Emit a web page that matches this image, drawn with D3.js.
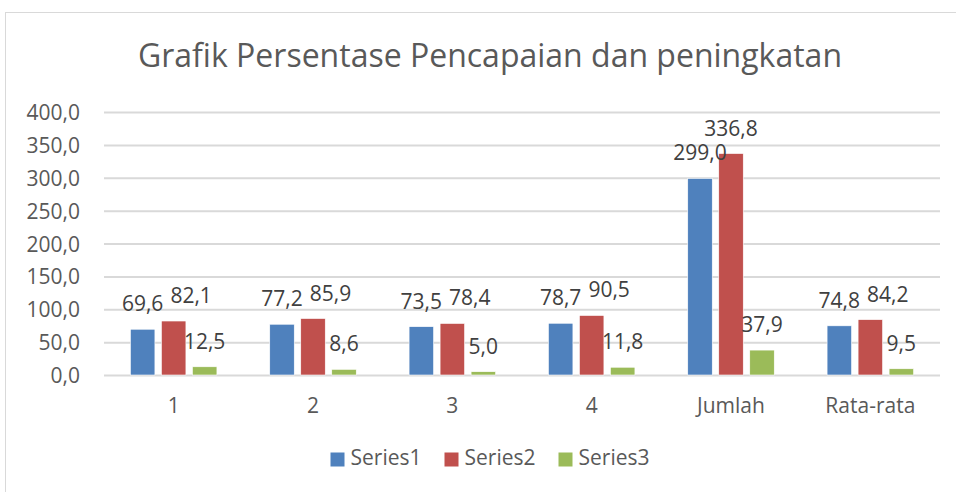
<!DOCTYPE html>
<html>
<head>
<meta charset="utf-8">
<script src="https://cdn.jsdelivr.net/npm/d3@7"></script>
<style>
  body { margin: 0; background: #fff; }
  svg { display: block; font-family: "Open Sans", sans-serif; }
</style>
</head>
<body>
<div id="chart"></div>
<script>
// Data
const categories = ["1", "2", "3", "4", "Jumlah", "Rata-rata"];
const seriesNames = ["Series1", "Series2", "Series3"];
const series1 = [69.6, 77.2, 73.5, 78.7, 299.0, 74.8];
const series2 = [82.1, 85.9, 78.4, 90.5, 336.8, 84.2];
const series3 = [12.5, 8.6, 5.0, 11.8, 37.9, 9.5];
const yTicks = [0, 50, 100, 150, 200, 250, 300, 350, 400];
const titleText = "Grafik Persentase Pencapaian dan peningkatan";

const seriesValues = [series1, series2, series3];
const data = categories.map((c, i) => ({
  category: c,
  values: seriesNames.map((s, j) => ({ series: s, value: seriesValues[j][i] })),
}));

// Dimensions
const width = 956;
const height = 492;
const margin = { top: 112, right: 16, bottom: 117, left: 104 };
const centerX = 490;
const fontSize = "21px";
const textColor = "#595959";
const gridColor = "#D9D9D9";
const colors = ["#4F81BD", "#C0504D", "#9BBB59"];
const fmt = (d) => d.toFixed(1).replace(".", ",");

// Scales
const x0 = d3
  .scaleBand()
  .domain(categories)
  .range([margin.left, width - margin.right]);

const x1 = d3
  .scaleBand()
  .domain(seriesNames)
  .range([0, x0.bandwidth()])
  .paddingInner(0.21)
  .paddingOuter(0.852);

const y = d3
  .scaleLinear()
  .domain([0, 400])
  .range([height - margin.bottom, margin.top]);

const color = d3.scaleOrdinal().domain(seriesNames).range(colors);

const svg = d3
  .select("#chart")
  .append("svg")
  .attr("width", width)
  .attr("height", height);

// Chart border
svg
  .append("rect")
  .attr("x", 5.5)
  .attr("y", 12.5)
  .attr("width", 1000)
  .attr("height", 1000)
  .attr("fill", "none")
  .attr("stroke", gridColor);

// Title
svg
  .append("text")
  .attr("x", centerX)
  .attr("y", 67)
  .attr("text-anchor", "middle")
  .attr("fill", textColor)
  .style("font-size", "32px")
  .text(titleText);

// Y axis (gridlines + labels)
const yAxisG = svg
  .append("g")
  .attr("transform", `translate(${margin.left},0)`)
  .call(
    d3
      .axisLeft(y)
      .tickValues(yTicks)
      .tickSize(-(width - margin.left - margin.right))
      .tickPadding(24)
      .tickFormat(fmt)
  );
yAxisG.select(".domain").remove();
yAxisG.selectAll(".tick line").attr("stroke", gridColor).attr("stroke-width", 2);
yAxisG
  .selectAll(".tick text")
  .attr("fill", textColor)
  .attr("dy", "0.36em")
  .style("font-size", fontSize)
  .style("font-family", "'Open Sans', sans-serif");

// X axis labels
const xAxisG = svg
  .append("g")
  .attr("transform", `translate(0,${height - margin.bottom})`)
  .call(d3.axisBottom(x0).tickSize(0).tickPadding(0));
xAxisG.select(".domain").remove();
xAxisG
  .selectAll(".tick text")
  .attr("fill", textColor)
  .attr("dy", 0)
  .attr("y", 38)
  .style("font-size", fontSize)
  .style("font-family", "'Open Sans', sans-serif");

// Bars
const groupG = svg
  .append("g")
  .selectAll("g")
  .data(data)
  .join("g")
  .attr("transform", (d) => `translate(${x0(d.category)},0)`);

groupG
  .selectAll("rect")
  .data((d) => d.values)
  .join("rect")
  .attr("x", (d) => x1(d.series))
  .attr("y", (d) => y(d.value))
  .attr("width", x1.bandwidth())
  .attr("height", (d) => y(0) - y(d.value))
  .attr("fill", (d) => color(d.series))
  .attr("stroke", "#fff")
  .attr("stroke-width", 0.6);

// Data labels, nudged right when they collide with the previous one
groupG.each(function (d) {
  const g = d3.select(this);
  const boxes = [];
  d.values.forEach((v) => {
    const t = g
      .append("text")
      .attr("text-anchor", "middle")
      .attr("fill", "#404040")
      .style("font-size", fontSize)
      .text(fmt(v.value));
    const w = t.node().getComputedTextLength();
    let cx = x1(v.series) + x1.bandwidth() / 2;
    const base = y(v.value) - 18;
    let box = { l: cx - w / 2, r: cx + w / 2, t: base - 15, b: base + 4 };
    boxes.forEach((p) => {
      const overlap = box.l < p.r + 6 && box.r > p.l && box.t < p.b && box.b > p.t;
      if (overlap) {
        const shift = p.r + 7 - box.l;
        cx += shift;
        box = { l: box.l + shift, r: box.r + shift, t: box.t, b: box.b };
      }
    });
    boxes.push(box);
    t.attr("x", cx).attr("y", base);
  });
});

// Legend
const legendG = svg.append("g").attr("transform", `translate(0,465)`);
let lx = 0;
seriesNames.forEach((s) => {
  const item = legendG.append("g");
  item
    .append("rect")
    .attr("y", -12.5)
    .attr("width", 14)
    .attr("height", 14)
    .attr("fill", color(s));
  const t = item
    .append("text")
    .attr("x", 20)
    .attr("fill", textColor)
    .style("font-size", fontSize)
    .text(s);
  const w = 20 + t.node().getComputedTextLength();
  item.attr("transform", `translate(${lx},0)`);
  lx += w + 23;
});
const legendWidth = lx - 23;
legendG.attr("transform", `translate(${centerX - legendWidth / 2},465)`);
</script>
</body>
</html>
